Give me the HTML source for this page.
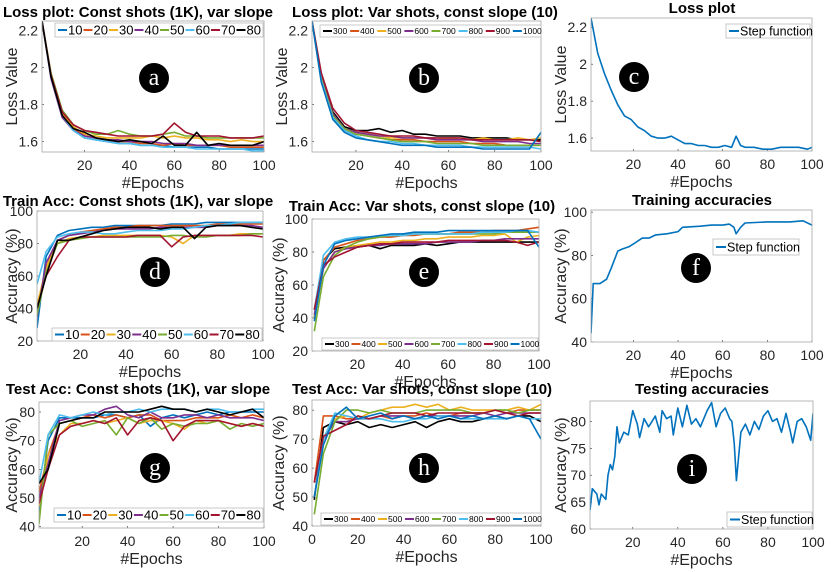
<!DOCTYPE html>
<html><head><meta charset="utf-8"><style>
html,body{margin:0;padding:0;background:#fff}
svg{display:block;font-family:"Liberation Sans",Arial,sans-serif}
</style></head><body>
<svg id="fig" width="831" height="572" viewBox="0 0 831 572" xmlns="http://www.w3.org/2000/svg"></svg>
<script>
// ---------- data ----------
const gridEpochs = [1,5,10,15,20,25,30,35,40,45,50,55,60,65,70,75,80,85,90,95,100];
const slopeNames = ["10","20","30","40","50","60","70","80"];
const shotNames = ["300","400","500","600","700","800","900","1000"];

const lossA_10 = [2.25,1.95,1.74,1.66,1.62,1.61,1.60,1.59,1.59,1.58,1.58,1.58,1.57,1.57,1.57,1.57,1.56,1.56,1.56,1.56,1.56];
const lossA_20 = [2.25,1.96,1.75,1.67,1.63,1.62,1.61,1.60,1.60,1.59,1.59,1.58,1.59,1.58,1.58,1.58,1.58,1.57,1.57,1.57,1.57];
const lossA_30 = [2.25,1.96,1.76,1.68,1.64,1.63,1.62,1.62,1.62,1.62,1.63,1.62,1.63,1.62,1.62,1.61,1.61,1.60,1.61,1.60,1.60];
const lossA_40 = [2.25,1.94,1.73,1.66,1.63,1.62,1.61,1.61,1.60,1.60,1.60,1.59,1.59,1.59,1.58,1.58,1.58,1.58,1.58,1.58,1.58];
const lossA_50 = [2.25,1.97,1.77,1.69,1.66,1.64,1.64,1.66,1.64,1.63,1.63,1.64,1.65,1.63,1.63,1.62,1.62,1.62,1.62,1.62,1.62];
const lossA_60 = [2.25,1.95,1.74,1.66,1.62,1.61,1.60,1.59,1.59,1.58,1.58,1.57,1.57,1.57,1.56,1.56,1.56,1.56,1.56,1.55,1.55];
const lossA_70 = [2.25,1.96,1.76,1.69,1.66,1.65,1.64,1.63,1.63,1.63,1.63,1.64,1.70,1.65,1.63,1.63,1.63,1.62,1.62,1.62,1.63];
const lossA_80 = [2.25,1.95,1.74,1.67,1.65,1.62,1.61,1.60,1.61,1.60,1.59,1.63,1.58,1.58,1.65,1.58,1.59,1.58,1.58,1.58,1.60];

const lossB_300 = [2.25,1.95,1.76,1.68,1.66,1.66,1.67,1.65,1.66,1.64,1.64,1.63,1.63,1.63,1.62,1.62,1.62,1.62,1.61,1.61,1.61];
const lossB_400 = [2.25,1.93,1.73,1.66,1.64,1.63,1.62,1.61,1.61,1.61,1.60,1.60,1.60,1.60,1.59,1.59,1.59,1.58,1.58,1.58,1.58];
const lossB_500 = [2.25,1.94,1.75,1.67,1.65,1.64,1.63,1.62,1.62,1.62,1.62,1.61,1.62,1.61,1.61,1.62,1.61,1.61,1.62,1.61,1.62];
const lossB_600 = [2.25,1.95,1.75,1.67,1.65,1.64,1.63,1.63,1.62,1.62,1.62,1.61,1.61,1.61,1.61,1.60,1.60,1.60,1.60,1.59,1.59];
const lossB_700 = [2.25,1.94,1.74,1.67,1.64,1.63,1.62,1.61,1.60,1.60,1.60,1.59,1.59,1.59,1.59,1.58,1.58,1.58,1.58,1.58,1.58];
const lossB_800 = [2.25,1.93,1.73,1.66,1.63,1.61,1.60,1.60,1.59,1.59,1.58,1.58,1.58,1.58,1.57,1.57,1.57,1.57,1.57,1.57,1.56];
const lossB_900 = [2.25,1.97,1.78,1.70,1.66,1.65,1.64,1.63,1.63,1.63,1.62,1.62,1.62,1.62,1.61,1.61,1.61,1.61,1.61,1.61,1.60];
const lossB_1000 = [2.25,1.92,1.72,1.65,1.62,1.61,1.60,1.59,1.58,1.58,1.58,1.57,1.57,1.57,1.57,1.56,1.56,1.56,1.56,1.56,1.65];

const accD_10 = [28,72,85,88,89,90,90,91,91,91,91,91,92,92,92,93,93,93,93,93,93];
const accD_20 = [38,65,82,85,87,88,89,90,90,91,91,91,91,91,91,91,92,92,92,92,92];
const accD_30 = [42,65,80,83,84,84,85,85,85,85,85,85,84,80,85,85,85,85,86,86,86];
const accD_40 = [35,68,82,85,86,87,88,89,89,89,89,90,90,90,90,90,91,91,91,91,90];
const accD_50 = [36,62,80,82,83,84,84,84,84,84,84,84,85,85,84,84,85,85,85,86,86];
const accD_60 = [55,75,84,86,87,87,86,86,87,88,88,88,89,89,90,91,91,92,93,93,93];
const accD_70 = [40,60,72,82,84,84,84,84,84,85,85,85,78,84,85,85,85,85,85,85,84];
const accD_80 = [40,60,82,82,84,86,88,89,90,90,90,89,90,90,83,90,91,91,91,90,89];

const accE_300 = [40,75,82,83,83,84,82,84,84,84,85,84,85,86,86,86,86,86,86,86,86];
const accE_400 = [45,75,83,85,87,88,89,89,90,90,91,91,91,92,92,92,93,93,93,94,95];
const accE_500 = [40,70,80,83,84,85,86,86,87,87,88,88,89,89,89,90,90,91,86,89,90];
const accE_600 = [42,70,80,82,83,84,84,85,85,85,85,86,86,86,86,87,87,88,88,88,88];
const accE_700 = [32,65,78,83,86,88,89,90,90,91,91,91,91,91,91,91,91,92,92,92,92];
const accE_800 = [45,78,86,88,89,89,90,90,90,91,91,91,91,91,91,92,92,92,93,93,92];
const accE_900 = [45,72,77,80,83,84,85,85,86,86,86,86,87,87,87,87,87,87,86,84,86];
const accE_1000 = [38,72,85,87,88,89,90,91,91,92,92,92,93,93,93,93,93,93,93,93,83];

const testG_10 = [45,70,78,78,78,78,79,79,78,79,75,78,79,78,79,80,79,80,80,80,80];
const testG_20 = [52,65,76,77,78,79,78,79,78,79,79,77,77,77,78,78,78,79,78,79,78];
const testG_30 = [47,65,72,76,76,77,76,77,78,76,77,77,76,74,77,76,77,76,75,76,75];
const testG_40 = [50,62,77,78,79,79,81,82,79,78,80,78,78,79,79,78,79,78,78,78,77];
const testG_50 = [41,72,76,77,75,76,77,72,78,76,78,74,76,75,76,76,77,74,76,75,76];
const testG_60 = [55,72,79,78,79,80,79,80,80,81,80,81,81,81,80,81,81,80,80,81,81];
const testG_70 = [48,60,72,75,76,77,76,78,72,77,78,77,70,75,77,77,77,76,75,76,75];
const testG_80 = [55,60,76,77,78,78,80,80,80,80,81,82,81,81,80,81,80,79,80,81,78];

const testH_300 = [49,74,76,75,76,74,75,74,75,76,74,76,77,76,76,77,78,77,78,78,76];
const testH_400 = [55,78,78,77,77,77,78,77,78,78,79,78,78,79,79,79,80,79,80,80,80];
const testH_500 = [50,70,77,78,77,79,80,81,81,82,81,82,80,81,80,80,80,80,81,80,82];
const testH_600 = [50,70,76,76,77,77,78,78,78,77,78,78,78,78,78,79,78,79,79,79,79];
const testH_700 = [44,65,76,80,80,79,80,79,79,79,80,80,80,80,79,79,80,80,79,80,80];
const testH_800 = [50,70,79,78,77,77,77,76,76,77,77,78,78,77,77,77,77,77,78,77,77];
const testH_900 = [55,71,73,75,78,77,78,79,79,79,78,79,79,79,79,79,80,79,78,79,79];
const testH_1000 = [50,68,78,81,77,78,79,77,78,77,78,77,78,77,78,77,78,77,78,77,70];

const lossC_epochs = [1,4,7,10,13,16,19,22,25,28,31,34,37,40,43,46,49,52,55,58,61,64,66,68,70,74,78,82,86,90,94,98,100];
const lossC_values = [2.25,2.06,1.95,1.86,1.78,1.72,1.70,1.66,1.64,1.61,1.60,1.60,1.61,1.59,1.57,1.57,1.56,1.56,1.55,1.55,1.56,1.55,1.61,1.56,1.55,1.55,1.54,1.54,1.55,1.55,1.55,1.54,1.55];
const accF_epochs = [1,2,5,8,10,13,15,18,21,24,27,30,35,40,42,50,55,60,63,65,66,68,70,80,90,96,100];
const accF_values = [44,67,67,69,74,82,83,84,86,88,88,89.5,90,91,93,93.5,94,94,94.5,93,90,93,95,95.5,95.5,96,94];
const testI_epochs = [1,2,4,5,6,8,9,10,11,12,13,14,16,18,20,22,23,25,27,30,32,33,35,37,38,40,42,44,46,48,50,53,55,57,59,61,63,64,65,66,68,70,72,74,76,78,80,82,84,86,88,90,91,93,95,97,99,100];
const testI_values = [63.5,67.5,66.5,64.5,66.5,65.5,70,72,71,73.5,79,76,78,77.5,82,79.5,77,80.5,79,81,78,82,80.5,81,77.5,82.5,79,83,79.5,80.5,79,82,83.5,79,81.5,82.5,80.5,80,76,69,78,79.5,77.5,80,78.5,81,82,80,80.5,78,81.5,78,76,80,80.5,79,76.5,81.5];

const colors = ["#0072BD","#D95319","#EDB120","#7E2F8E","#77AC30","#4DBEEE","#A2142F","#000000"];
const colorsShots = ["#000000","#D95319","#EDB120","#7E2F8E","#77AC30","#4DBEEE","#A2142F","#0072BD"];

// ---------- drawing ----------
const NS = "http://www.w3.org/2000/svg";
const svg = document.getElementById("fig");
function mk(tag, attrs, parent){ const e=document.createElementNS(NS,tag); for(const k in attrs) e.setAttribute(k,attrs[k]); (parent||svg).appendChild(e); return e; }
function txt(s, attrs, parent){ const e=mk("text",attrs,parent); e.textContent=s; return e; }

function plot(cfg){
  const g = mk("g",{});
  
  
  const b = cfg.box;
  const sx = v => b.l + (v - cfg.xd[0])/(cfg.xd[1]-cfg.xd[0])*(b.r-b.l);
  const sy = v => b.b - (v - cfg.yd[0])/(cfg.yd[1]-cfg.yd[0])*(b.b-b.t);
  const clipId = "clip-"+cfg.name;
  const cp = mk("clipPath",{id:clipId},g); mk("rect",{x:b.l,y:b.t,width:b.r-b.l,height:b.b-b.t},cp);
  // title
  const t = txt(cfg.title,{x:cfg.titleX,y:cfg.titleY,"text-anchor":"middle","font-size":cfg.titleSize||15,"font-weight":"bold",fill:"#000"},g);
  
  
  // ticks
  cfg.xt.forEach(v=>{
    const tl = txt(String(v),{x:sx(v),y:b.b+18,"text-anchor":"middle","font-size":14,fill:"#262626"},g);
    
    
    mk("line",{x1:sx(v),x2:sx(v),y1:b.b,y2:b.b-2,stroke:"#262626","stroke-width":0.6},g);
  });
  cfg.yt.forEach((v,i)=>{
    const tl = txt(cfg.ytl[i],{x:b.l-4,y:sy(v)+5,"text-anchor":"end","font-size":14,fill:"#262626"},g);
    
    
    mk("line",{x1:b.l,x2:b.l+2,y1:sy(v),y2:sy(v),stroke:"#262626","stroke-width":0.6},g);
  });
  const xl = txt("#Epochs",{x:(b.l+b.r)/2,y:b.b+36,"text-anchor":"middle","font-size":16,fill:"#262626"},g);
  
  
  const yc=(b.t+b.b)/2;
  const yl = txt(cfg.ylabel,{x:cfg.ylx,y:yc,"text-anchor":"middle","font-size":16,fill:"#262626",transform:`rotate(-90 ${cfg.ylx} ${yc})`},g);
  
  
  // series
  const sg = mk("g",{"clip-path":`url(#${clipId})`},g);
  cfg.series.forEach((s,i)=>{
    const d = s.y.map((v,j)=>(j?"L":"M")+sx(s.x[j]).toFixed(1)+","+sy(v).toFixed(1)).join("");
    const p = mk("path",{d:d,fill:"none",stroke:s.c,"stroke-width":1.6,"stroke-linejoin":"round"},sg);
    
    
  });
  // box
  mk("rect",{x:b.l,y:b.t,width:b.r-b.l,height:b.b-b.t,fill:"none",stroke:"#a6a6a6","stroke-width":0.8},g);
  // legend
  const L = cfg.leg;
  const lg = mk("g",{},g);
  
  
  mk("rect",{x:L.x,y:L.y,width:L.w,height:L.h,fill:"#fff",stroke:"#bdbdbd","stroke-width":0.8},lg);
  const step = (L.w-4)/cfg.series.length;
  cfg.series.forEach((s,i)=>{
    const x0 = L.x+3+i*step;
    const ent = mk("g",{},lg);
    
    
    mk("line",{x1:x0,x2:x0+L.line,y1:L.y+L.h/2,y2:L.y+L.h/2,stroke:s.c,"stroke-width":2},ent);
    txt(s.n,{x:x0+L.line+1,y:L.y+L.h/2+L.fs*0.36,"font-size":L.fs,fill:"#000"},ent);
  });
  // circle label
  const cg = mk("g",{},g);
  
  
  mk("circle",{cx:cfg.cl[0],cy:cfg.cl[1],r:15,fill:"#000"},cg);
  txt(cfg.letter,{x:cfg.cl[0],y:cfg.cl[1]+7,"text-anchor":"middle","font-size":24,fill:"#fff","font-family":"Liberation Serif, serif"},cg);
}

function multi(names, arrs, cols){ return names.map((n,i)=>({n:n,x:gridEpochs,y:arrs[i],c:cols[i]})); }

const legWide = {line:9,fs:13};
const legSmall = {line:9,fs:8.5};

plot({name:"loss-const-shots",title:"Loss plot: Const shots (1K), var slope",titleX:138,titleY:17,
  box:{l:42,r:264,t:21,b:152},xd:[1,100],yd:[1.544,2.25],xt:[20,40,60,80,100],yt:[1.6,1.8,2.0,2.2],ytl:["1.6","1.8","2","2.2"],
  ylabel:"Loss Value",ylx:17,letter:"a",cl:[154,78],
  leg:Object.assign({x:55,y:23,w:208,h:14},legWide),
  series:multi(slopeNames,[lossA_10,lossA_20,lossA_30,lossA_40,lossA_50,lossA_60,lossA_70,lossA_80],colors)});

plot({name:"loss-var-shots",title:"Loss plot: Var shots, const slope (10)",titleX:425,titleY:17,
  box:{l:312,r:541,t:21,b:152},xd:[1,100],yd:[1.544,2.25],xt:[20,40,60,80,100],yt:[1.6,1.8,2.0,2.2],ytl:["1.6","1.8","2","2.2"],
  ylabel:"Loss Value",ylx:287,letter:"b",cl:[424,78],
  leg:Object.assign({x:320,y:25,w:221,h:12},legSmall),
  series:multi(shotNames,[lossB_300,lossB_400,lossB_500,lossB_600,lossB_700,lossB_800,lossB_900,lossB_1000],colorsShots)});

plot({name:"loss-step",title:"Loss plot",titleX:702,titleY:13,
  box:{l:591,r:812,t:18,b:151},xd:[1,100],yd:[1.53,2.25],xt:[20,40,60,80,100],yt:[1.6,1.8,2.0,2.2],ytl:["1.6","1.8","2","2.2"],
  ylabel:"Loss Value",ylx:566,letter:"c",cl:[634,77],
  leg:{x:726,y:24,w:84,h:14,line:10,fs:12.5},
  series:[{n:"Step function",x:lossC_epochs,y:lossC_values,c:"#0072BD"}]});

plot({name:"train-acc-const-shots",title:"Train Acc: Const shots (1K), var slope",titleX:138,titleY:206,
  box:{l:37,r:263,t:211,b:341},xd:[1,100],yd:[20,100],xt:[20,40,60,80,100],yt:[20,40,60,80,100],ytl:["20","40","60","80","100"],
  ylabel:"Accuracy (%)",ylx:17,letter:"d",cl:[155,272],
  leg:Object.assign({x:52,y:328,w:210,h:13},legWide),
  series:multi(slopeNames,[accD_10,accD_20,accD_30,accD_40,accD_50,accD_60,accD_70,accD_80],colors)});

plot({name:"train-acc-var-shots",title:"Train Acc: Var shots, const slope (10)",titleX:422,titleY:211,
  box:{l:312,r:539,t:219,b:351},xd:[0,100],yd:[20,100],xt:[20,40,60,80,100],yt:[20,40,60,80,100],ytl:["20","40","60","80","100"],
  ylabel:"Accuracy (%)",ylx:284,letter:"e",cl:[424,272],
  leg:Object.assign({x:322,y:338,w:216,h:12},legSmall),
  series:multi(shotNames,[accE_300,accE_400,accE_500,accE_600,accE_700,accE_800,accE_900,accE_1000],colorsShots)});

plot({name:"train-acc-step",title:"Training accuracies",titleX:702,titleY:205,
  box:{l:591,r:812,t:210,b:342},xd:[1,100],yd:[40,101],xt:[20,40,60,80,100],yt:[40,60,80,100],ytl:["40","60","80","100"],
  ylabel:"Accuracy (%)",ylx:566,letter:"f",cl:[696,268],
  leg:{x:713,y:239,w:86,h:16,line:10,fs:12.5},
  series:[{n:"Step function",x:accF_epochs,y:accF_values,c:"#0072BD"}]});

plot({name:"test-acc-const-shots",title:"Test Acc: Const shots (1K), var slope",titleX:138,titleY:394,
  box:{l:39,r:264,t:402,b:528},xd:[1,100],yd:[39.5,83.5],xt:[20,40,60,80,100],yt:[40,50,60,70,80],ytl:["40","50","60","70","80"],
  ylabel:"Accuracy (%)",ylx:17,letter:"g",cl:[155,468],
  leg:Object.assign({x:54,y:508,w:209,h:14},legWide),
  series:multi(slopeNames,[testG_10,testG_20,testG_30,testG_40,testG_50,testG_60,testG_70,testG_80],colors)});

plot({name:"test-acc-var-shots",title:"Test Acc: Var shots, const slope (10)",titleX:422,titleY:394,
  box:{l:312,r:541,t:400,b:526},xd:[0,100],yd:[40,83.5],xt:[0,20,40,60,80,100],yt:[40,50,60,70,80],ytl:["40","50","60","70","80"],
  ylabel:"Accuracy (%)",ylx:284,letter:"h",cl:[424,468],
  leg:Object.assign({x:321,y:513,w:220,h:12},legSmall),
  series:multi(shotNames,[testH_300,testH_400,testH_500,testH_600,testH_700,testH_800,testH_900,testH_1000],colorsShots)});

plot({name:"test-acc-step",title:"Testing accuracies",titleX:702,titleY:394,
  box:{l:590,r:813,t:401,b:529},xd:[1,100],yd:[60,83.8],xt:[20,40,60,80,100],yt:[60,65,70,75,80],ytl:["60","65","70","75","80"],
  ylabel:"Accuracy (%)",ylx:566,letter:"i",cl:[692,469],
  leg:{x:727,y:512,w:85,h:15,line:10,fs:12.5},
  series:[{n:"Step function",x:testI_epochs,y:testI_values,c:"#0072BD"}]});
</script>
</body></html>
